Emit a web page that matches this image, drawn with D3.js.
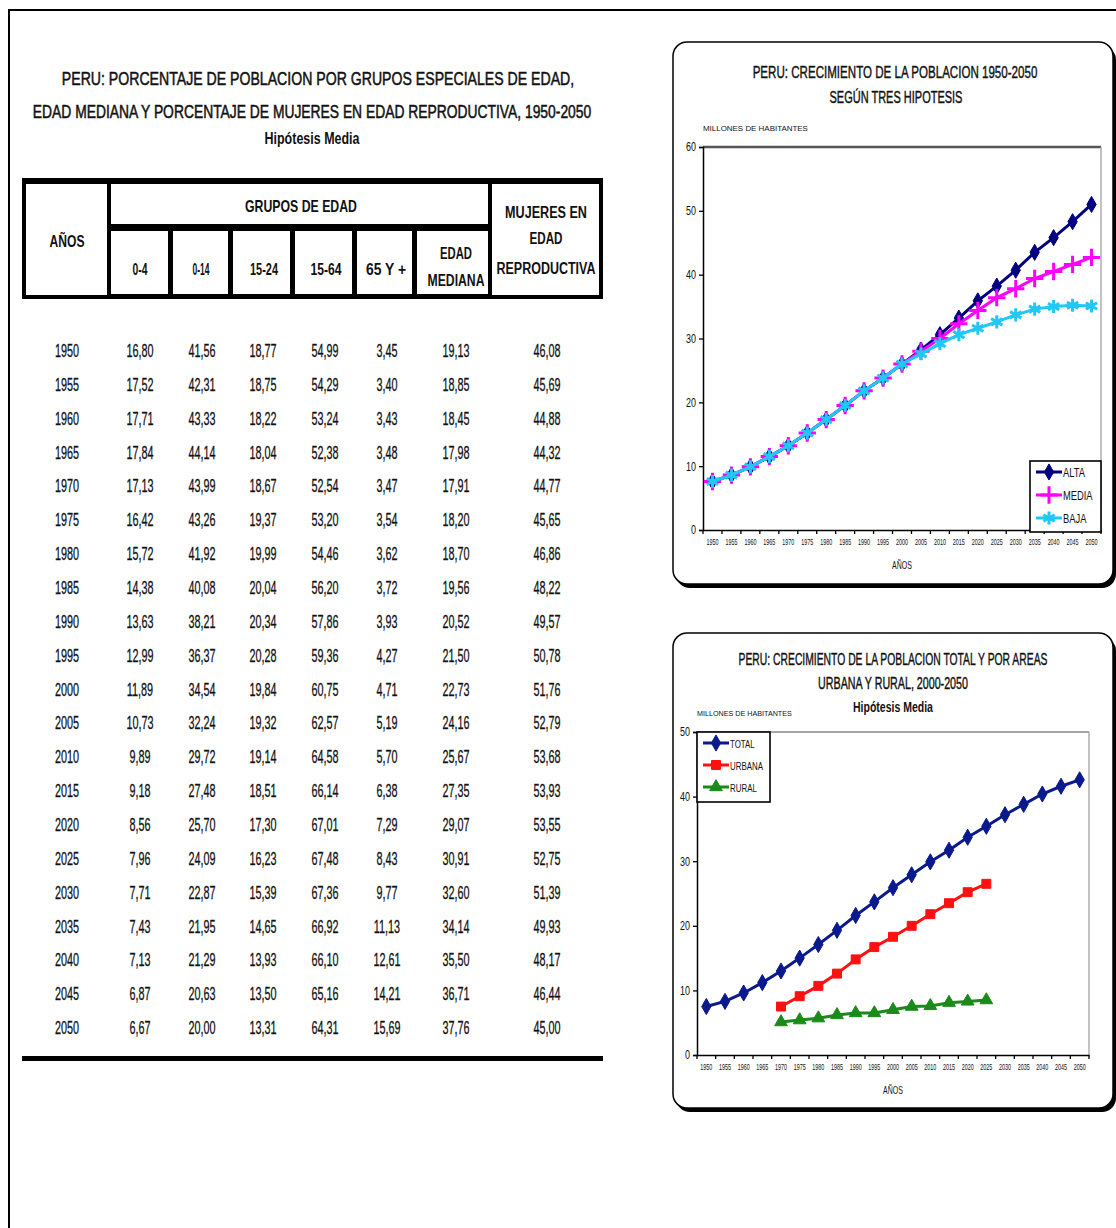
<!DOCTYPE html>
<html>
<head>
<meta charset="utf-8">
<script src="https://cdn.jsdelivr.net/npm/d3@7"></script>
<style>
  body { margin: 0; background: #fff; }
  svg text { font-family: "Liberation Sans", Arial, sans-serif; fill: #111; }
</style>
</head>
<body>
<svg id="c" width="1116" height="1228"></svg>
<script>
// ---- Table data: Peru, percentage of population by special age groups (Hipótesis Media)
const years = [1950,1955,1960,1965,1970,1975,1980,1985,1990,1995,2000,2005,2010,2015,2020,2025,2030,2035,2040,2045,2050];
const pct0a4   = [16.80,17.52,17.71,17.84,17.13,16.42,15.72,14.38,13.63,12.99,11.89,10.73,9.89,9.18,8.56,7.96,7.71,7.43,7.13,6.87,6.67];
const pct0a14  = [41.56,42.31,43.33,44.14,43.99,43.26,41.92,40.08,38.21,36.37,34.54,32.24,29.72,27.48,25.70,24.09,22.87,21.95,21.29,20.63,20.00];
const pct15a24 = [18.77,18.75,18.22,18.04,18.67,19.37,19.99,20.04,20.34,20.28,19.84,19.32,19.14,18.51,17.30,16.23,15.39,14.65,13.93,13.50,13.31];
const pct15a64 = [54.99,54.29,53.24,52.38,52.54,53.20,54.46,56.20,57.86,59.36,60.75,62.57,64.58,66.14,67.01,67.48,67.36,66.92,66.10,65.16,64.31];
const pct65mas = [3.45,3.40,3.43,3.48,3.47,3.54,3.62,3.72,3.93,4.27,4.71,5.19,5.70,6.38,7.29,8.43,9.77,11.13,12.61,14.21,15.69];
const edadMediana = [19.13,18.85,18.45,17.98,17.91,18.20,18.70,19.56,20.52,21.50,22.73,24.16,25.67,27.35,29.07,30.91,32.60,34.14,35.50,36.71,37.76];
const mujeresReprod = [46.08,45.69,44.88,44.32,44.77,45.65,46.86,48.22,49.57,50.78,51.76,52.79,53.68,53.93,53.55,52.75,51.39,49.93,48.17,46.44,45.00];

// ---- Population growth 1950-2050, three hypotheses (millions)
const alta  = [7.6,8.6,9.9,11.5,13.2,15.2,17.3,19.5,21.8,23.8,26.0,28.2,30.6,33.2,35.9,38.2,40.7,43.5,45.8,48.3,51.0];
const media = [7.6,8.6,9.9,11.5,13.2,15.2,17.3,19.5,21.8,23.8,26.0,28.0,30.0,32.3,34.4,36.4,37.8,39.4,40.5,41.6,42.7];
const baja  = [7.6,8.6,9.9,11.5,13.2,15.2,17.3,19.5,21.8,23.8,26.0,27.6,29.2,30.6,31.6,32.6,33.7,34.6,35.0,35.2,35.1];

// ---- Total, urban and rural population, medium hypothesis (millions)
const total  = [7.5,8.3,9.6,11.2,13.0,15.0,17.1,19.3,21.6,23.7,25.9,27.9,29.9,31.7,33.7,35.4,37.2,38.8,40.4,41.6,42.6];
const urbana = [null,null,null,null,7.5,9.1,10.7,12.6,14.8,16.7,18.3,20.0,21.8,23.5,25.2,26.5,null,null,null,null,null];
const rural  = [null,null,null,null,5.1,5.4,5.7,6.2,6.5,6.5,7.0,7.5,7.6,8.1,8.3,8.5,null,null,null,null,null];

const tableCols = [pct0a4, pct0a14, pct15a24, pct15a64, pct65mas, edadMediana, mujeresReprod];
const yTicks1 = [0,10,20,30,40,50,60];
const yTicks2 = [0,10,20,30,40,50];

const svg = d3.select("#c");
const fmt = v => d3.format(".2f")(v).replace(".", ",");

// Condensed text helper: squeezes horizontally, optionally to a target width
function txt(parent, x, y, s, o = {}) {
  const size = o.size || 14, sx = o.sx || 0.62;
  const t = parent.append("text")
    .attr("font-size", size)
    .attr("font-weight", o.weight || "normal")
    .attr("text-anchor", o.anchor || "middle")
    .text(s);
  if (o.stroke) t.attr("stroke", "#111").attr("stroke-width", o.stroke);
  let k = sx;
  if (o.w) { k = o.w / t.node().getComputedTextLength(); }
  t.attr("transform", `translate(${x},${y}) scale(${k},1)`);
  return t;
}

// outer frame
svg.append("path").attr("d", "M9,1230 L9,10 L1118,10").attr("fill", "none").attr("stroke", "#000").attr("stroke-width", 2);

// ================= TABLE =================
const tb = svg.append("g");
txt(tb, 318, 85, "PERU: PORCENTAJE DE POBLACION POR GRUPOS ESPECIALES DE EDAD,", {size: 18, w: 513, stroke: 0.5});
txt(tb, 312, 118, "EDAD MEDIANA Y PORCENTAJE DE MUJERES EN EDAD REPRODUCTIVA, 1950-2050", {size: 18, w: 559, stroke: 0.5});
txt(tb, 312, 144, "Hipótesis Media", {size: 17, w: 95, weight: "bold"});

// header block: black base with white cells
tb.append("rect").attr("x", 22).attr("y", 178).attr("width", 581).attr("height", 121).attr("fill", "#000");
const cells = [
  [26,184,81,111],[111,184,377,40],[492,184,107,111],
  [111,231,57,63],[173,231,55,63],[233,231,57,63],[295,231,57,63],[357,231,55,63],[417,231,71,63]
];
tb.selectAll("rect.cell").data(cells).join("rect").attr("class","cell")
  .attr("x", d => d[0]).attr("y", d => d[1]).attr("width", d => d[2]).attr("height", d => d[3]).attr("fill", "#fff");

const hb = {size: 17, weight: "bold"};
txt(tb, 67, 247, "AÑOS", {...hb, w: 35});
txt(tb, 301, 212, "GRUPOS DE EDAD", {...hb, w: 112});
txt(tb, 140, 275, "0-4", {...hb, w: 15});
txt(tb, 201, 275, "0-14", {...hb, w: 17});
txt(tb, 264, 275, "15-24", {...hb, w: 28});
txt(tb, 326, 275, "15-64", {...hb, w: 31});
txt(tb, 386, 275, "65 Y +", {...hb, w: 40});
txt(tb, 456, 259, "EDAD", {...hb, w: 32});
txt(tb, 456, 286, "MEDIANA", {...hb, w: 57});
txt(tb, 546, 218, "MUJERES EN", {...hb, w: 82});
txt(tb, 546, 244, "EDAD", {...hb, w: 33});
txt(tb, 546, 274, "REPRODUCTIVA", {...hb, w: 99});

const rowY = d3.scaleBand().domain(years).range([333, 1044]);
const colX = [140, 202, 263, 325, 387, 456, 547];
years.forEach((yr, i) => {
  const yb = rowY(yr) + rowY.bandwidth() / 2 + 7;
  txt(tb, 67, yb, String(yr), {size: 19, sx: 0.57, stroke: 0.3});
  tableCols.forEach((col, j) => txt(tb, colX[j], yb, fmt(col[i]), {size: 19, sx: 0.57, stroke: 0.3}));
});
tb.append("rect").attr("x", 22).attr("y", 1056).attr("width", 581).attr("height", 5).attr("fill", "#000");

// ================= CHART BUILDER =================
function chartBox(x, y, w, h) {
  svg.append("rect").attr("x", x + 3).attr("y", y + 4).attr("width", w).attr("height", h).attr("rx", 14).attr("fill", "#000");
  svg.append("rect").attr("x", x).attr("y", y).attr("width", w).attr("height", h).attr("rx", 14)
    .attr("fill", "#fff").attr("stroke", "#000").attr("stroke-width", 1.5);
}

function lineChart(cfg) {
  const g = svg.append("g");
  const x = d3.scaleBand().domain(years).range([cfg.left, cfg.right]);
  const y = d3.scaleLinear().domain([0, cfg.max]).range([cfg.bottom, cfg.top]);
  const cx = d => x(d) + x.bandwidth() / 2;

  // plot frame
  g.append("line").attr("x1", cfg.left).attr("x2", cfg.right).attr("y1", cfg.top).attr("y2", cfg.top)
    .attr("stroke", cfg.topColor).attr("stroke-width", cfg.topWidth);
  g.append("line").attr("x1", cfg.right).attr("x2", cfg.right).attr("y1", cfg.top).attr("y2", cfg.bottom)
    .attr("stroke", "#999").attr("stroke-width", 1.2);

  // y axis
  const ya = g.append("g").attr("transform", `translate(${cfg.left},0)`)
    .call(d3.axisLeft(y).tickValues(cfg.yTicks).tickSize(4).tickFormat(d3.format("d")));
  ya.select(".domain").attr("stroke", "#000").attr("stroke-width", 1.5);
  ya.selectAll(".tick line").attr("stroke", "#000").attr("stroke-width", 1.3);
  ya.selectAll(".tick text").attr("font-size", 12)
    .attr("transform", "scale(0.75,1)").attr("x", -7 / 0.75);

  // x axis: labels centered in each category, ticks at category edges
  const xa = g.append("g").attr("transform", `translate(0,${cfg.bottom})`)
    .call(d3.axisBottom(x).tickSize(0).tickPadding(10));
  xa.select(".domain").attr("stroke", "#000").attr("stroke-width", 1.5);
  xa.selectAll(".tick text").attr("font-size", 9).attr("dy", "0.6em")
    .attr("transform", "scale(0.6,1)");
  xa.selectAll(".tick").each(function (d) {
    d3.select(this).attr("transform", `translate(${x(d) + x.bandwidth() / 2},0)`);
  });
  g.selectAll("line.xt").data(years.concat([null])).join("line").attr("class", "xt")
    .attr("x1", d => d === null ? cfg.right : x(d)).attr("x2", d => d === null ? cfg.right : x(d))
    .attr("y1", cfg.bottom).attr("y2", cfg.bottom + 4).attr("stroke", "#000").attr("stroke-width", 1.3);

  // series
  cfg.series.forEach(s => {
    const pts = years.map((yr, i) => ({yr, v: s.values[i]})).filter(p => p.v != null);
    g.append("path").datum(pts)
      .attr("fill", "none").attr("stroke", s.color).attr("stroke-width", 3)
      .attr("d", d3.line().x(p => cx(p.yr)).y(p => y(p.v)));
    const sym = d3.symbol().type(s.symbol).size(s.size);
    g.selectAll(null).data(pts).join("path")
      .attr("transform", p => `translate(${cx(p.yr)},${y(p.v)})`)
      .attr("d", sym)
      .attr("fill", s.stroke ? "none" : s.color)
      .attr("stroke", s.color).attr("stroke-width", s.stroke ? 3 : 1);
  });

  // legend
  const L = cfg.legend;
  g.append("rect").attr("x", L.x).attr("y", L.y).attr("width", L.w).attr("height", L.h)
    .attr("fill", "#fff").attr("stroke", "#000").attr("stroke-width", 1.6);
  cfg.series.forEach((s, i) => {
    const ly = L.y + L.first + i * L.step;
    g.append("line").attr("x1", L.x + 6).attr("x2", L.x + 32).attr("y1", ly).attr("y2", ly)
      .attr("stroke", s.color).attr("stroke-width", 3);
    g.append("path").attr("transform", `translate(${L.x + 19},${ly})`)
      .attr("d", d3.symbol().type(s.symbol).size(s.size)())
      .attr("fill", s.stroke ? "none" : s.color).attr("stroke", s.color).attr("stroke-width", s.stroke ? 3 : 1);
    txt(g, L.x + 33, ly + 4.5, s.name, {size: L.font, sx: 0.72, anchor: "start"});
  });

  // axis captions
  txt(g, cfg.left, cfg.unitY, "MILLONES DE HABITANTES", {size: 8, w: cfg.unitW, anchor: "start"});
  txt(g, (cfg.left + cfg.right) / 2, cfg.bottom + 39, "AÑOS", {size: 10, sx: 0.7});
}

// ================= CHART 1 =================
chartBox(673, 42, 440, 542);
txt(svg, 895, 78, "PERU: CRECIMIENTO DE LA POBLACION 1950-2050", {size: 16, w: 285, stroke: 0.4});
txt(svg, 896, 103, "SEGÚN TRES HIPOTESIS", {size: 16, w: 133, stroke: 0.4});
lineChart({
  left: 703, right: 1101, top: 147, bottom: 530, max: 60, yTicks: yTicks1,
  topColor: "#555", topWidth: 2.5, unitY: 131, unitW: 105,
  series: [
    {name: "ALTA",  values: alta,  color: "#000080", symbol: d3.symbolDiamond, size: 75},
    {name: "MEDIA", values: media, color: "#FF00FF", symbol: d3.symbolPlus, size: 100, stroke: true},
    {name: "BAJA",  values: baja,  color: "#22C8F5", symbol: d3.symbolAsterisk, size: 120, stroke: true}
  ],
  legend: {x: 1030, y: 461, w: 71, h: 71, first: 11, step: 23, font: 13}
});

// ================= CHART 2 =================
chartBox(673, 633, 440, 475);
txt(svg, 893, 665, "PERU: CRECIMIENTO DE LA POBLACION TOTAL Y POR AREAS", {size: 16, w: 309, stroke: 0.4});
txt(svg, 893, 689, "URBANA  Y RURAL, 2000-2050", {size: 16, w: 150, stroke: 0.4});
txt(svg, 893, 712, "Hipótesis Media", {size: 15, w: 80, weight: "bold"});
lineChart({
  left: 697, right: 1089, top: 732, bottom: 1055, max: 50, yTicks: yTicks2,
  topColor: "#888", topWidth: 1.5, unitY: 716, unitW: 95,
  series: [
    {name: "TOTAL",  values: total,  color: "#0A1A8C", symbol: d3.symbolDiamond, size: 75},
    {name: "URBANA", values: urbana, color: "#FF1010", symbol: d3.symbolSquare, size: 80},
    {name: "RURAL",  values: rural,  color: "#1A8A1A", symbol: d3.symbolTriangle, size: 70}
  ],
  legend: {x: 697, y: 732, w: 73, h: 70, first: 11, step: 22, font: 11}
});
</script>
</body>
</html>
